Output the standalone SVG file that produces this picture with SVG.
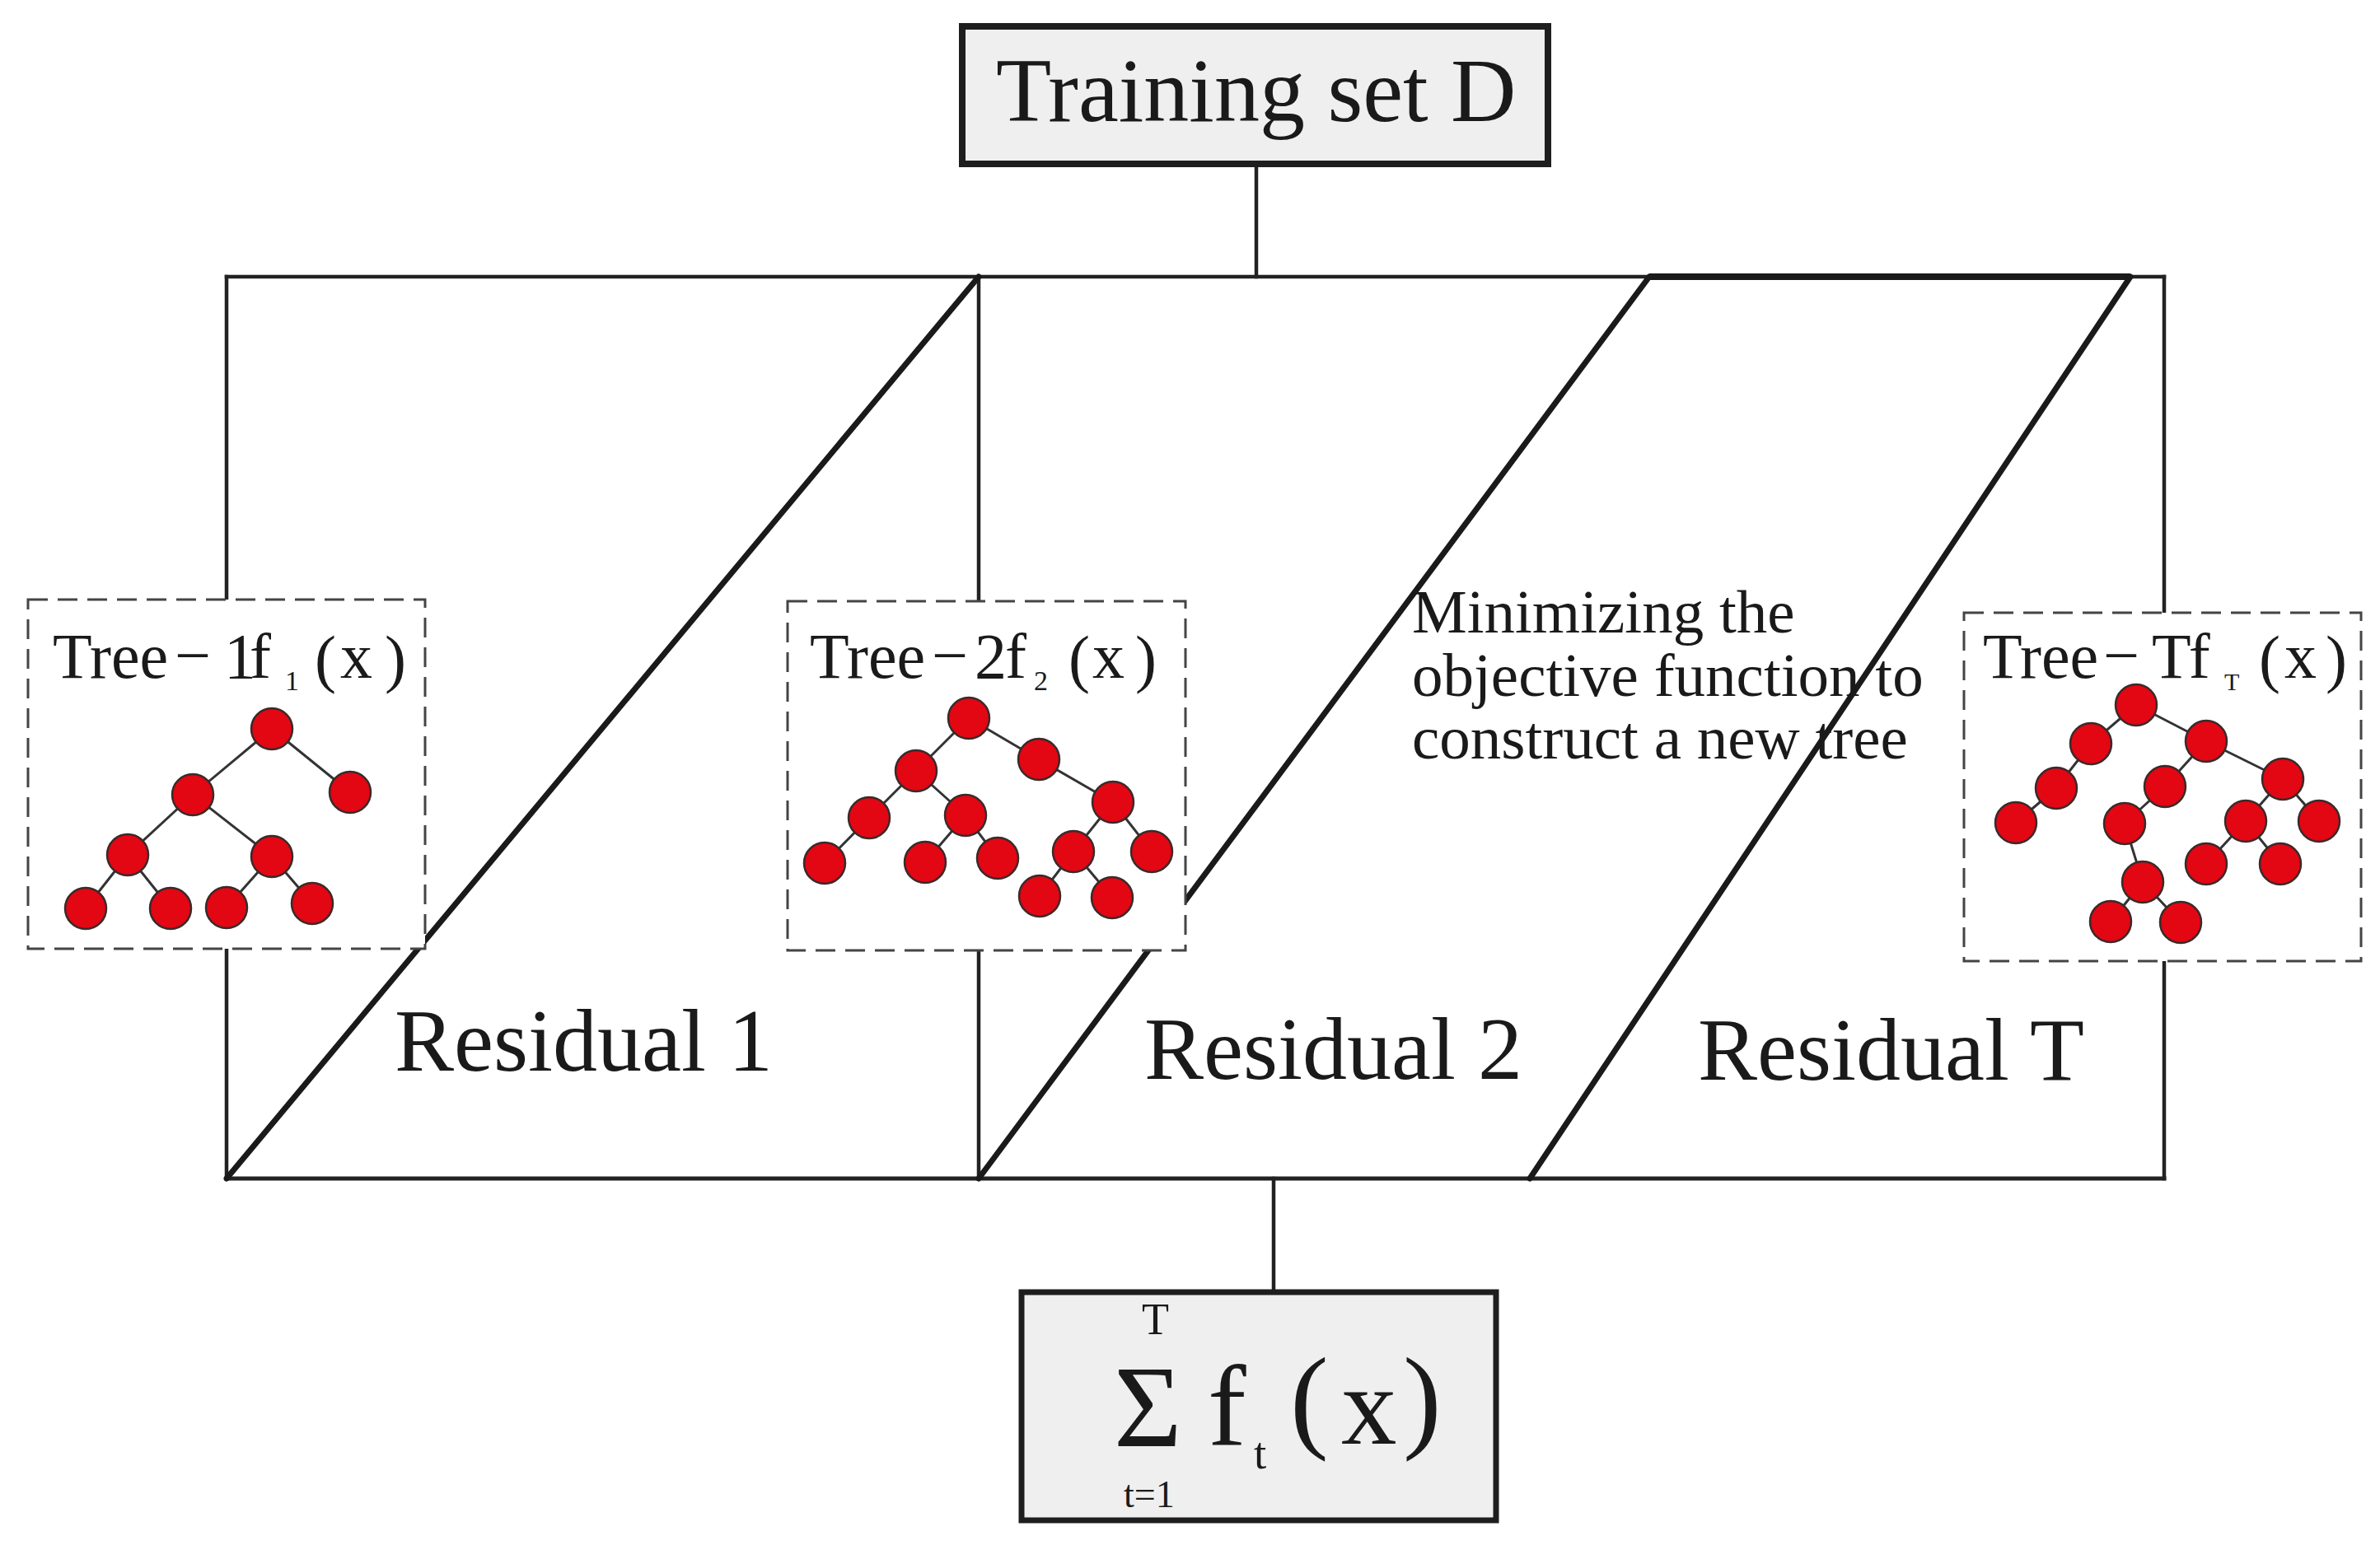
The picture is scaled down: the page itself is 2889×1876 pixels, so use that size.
<svg xmlns="http://www.w3.org/2000/svg" width="2889" height="1876" viewBox="0 0 2889 1876">
<defs>
<style>
.ln{stroke:#222;stroke-width:4.5;fill:none;stroke-linecap:square}
.diag{stroke:#1a1a1a;stroke-width:7;fill:none;stroke-linecap:round}
.thick{stroke:#1a1a1a;stroke-width:8;fill:none}
.dbox{fill:#fff;stroke:#444;stroke-width:3;stroke-dasharray:24 12}
.sbox{fill:#efefef;stroke:#1e1e1e;stroke-width:8}
.t{font-family:"Liberation Serif","Times New Roman",serif;fill:#1a1a1a}
.nd{fill:#e30613;stroke:#3a2a2a;stroke-width:2.5}
.ed{stroke:#333;stroke-width:3}
</style>
</defs>
<rect width="2889" height="1876" fill="#fff"/>

<g id="connectors">
  <line class="ln" x1="1525" y1="199" x2="1525" y2="336"/>
  <line class="ln" x1="275" y1="336" x2="2627" y2="336"/>
  <line class="thick" x1="2002" y1="336" x2="2586" y2="336"/>
  <line class="ln" x1="275" y1="336" x2="275" y2="728"/>
  <line class="ln" x1="275" y1="1152" x2="275" y2="1431"/>
  <line class="ln" x1="1188" y1="336" x2="1188" y2="730"/>
  <line class="ln" x1="1188" y1="1154" x2="1188" y2="1431"/>
  <line class="ln" x1="2627" y1="336" x2="2627" y2="744"/>
  <line class="ln" x1="2627" y1="1167" x2="2627" y2="1431"/>
  <line class="ln" x1="275" y1="1431" x2="2627" y2="1431" style="stroke-width:5"/>
  <line class="ln" x1="1546" y1="1431" x2="1546" y2="1567"/>
  <line class="diag" x1="275" y1="1431" x2="1188" y2="336"/>
  <line class="diag" x1="1188" y1="1431" x2="2002" y2="336"/>
  <line class="diag" x1="1857" y1="1431" x2="2586" y2="336"/>
</g>

<g id="training-set">
  <rect class="sbox" x="1168" y="32" width="711" height="167"/>
  <text class="t" x="1209" y="147" font-size="110">Training set D</text>
</g>

<g id="tree-1">
  <rect class="dbox" x="34" y="728" width="482" height="424"/>
  <text class="t" y="823" font-size="78"><tspan x="64">Tree</tspan><tspan x="212" y="822">−</tspan><tspan x="272" y="823" letter-spacing="-8">1f</tspan><tspan x="346" y="838" font-size="34">1</tspan><tspan x="382" y="826">(</tspan><tspan x="413" y="823">x</tspan><tspan x="467" y="826">)</tspan></text>
  <g class="ed">
    <line x1="330" y1="885" x2="234" y2="965"/>
    <line x1="330" y1="885" x2="425" y2="962"/>
    <line x1="234" y1="965" x2="155" y2="1038"/>
    <line x1="234" y1="965" x2="330" y2="1040"/>
    <line x1="155" y1="1038" x2="104" y2="1103"/>
    <line x1="155" y1="1038" x2="207" y2="1103"/>
    <line x1="330" y1="1040" x2="275" y2="1102"/>
    <line x1="330" y1="1040" x2="379" y2="1097"/>
  </g>
  <g class="nd">
    <circle cx="330" cy="885" r="25"/>
    <circle cx="234" cy="965" r="25"/>
    <circle cx="425" cy="962" r="25"/>
    <circle cx="155" cy="1038" r="25"/>
    <circle cx="330" cy="1040" r="25"/>
    <circle cx="104" cy="1103" r="25"/>
    <circle cx="207" cy="1103" r="25"/>
    <circle cx="275" cy="1102" r="25"/>
    <circle cx="379" cy="1097" r="25"/>
  </g>
</g>

<g id="tree-2">
  <rect class="dbox" x="956" y="730" width="483" height="424"/>
  <text class="t" y="823" font-size="78"><tspan x="983">Tree</tspan><tspan x="1131" y="822">−</tspan><tspan x="1183" y="823" letter-spacing="-2">2f</tspan><tspan x="1255" y="838" font-size="34">2</tspan><tspan x="1297" y="826">(</tspan><tspan x="1326" y="823">x</tspan><tspan x="1378" y="826">)</tspan></text>
  <g class="ed">
    <line x1="1176" y1="872" x2="1112" y2="936"/>
    <line x1="1176" y1="872" x2="1261" y2="922"/>
    <line x1="1112" y1="936" x2="1055" y2="993"/>
    <line x1="1112" y1="936" x2="1172" y2="990"/>
    <line x1="1055" y1="993" x2="1001" y2="1048"/>
    <line x1="1172" y1="990" x2="1123" y2="1047"/>
    <line x1="1172" y1="990" x2="1211" y2="1042"/>
    <line x1="1261" y1="922" x2="1351" y2="974"/>
    <line x1="1351" y1="974" x2="1303" y2="1034"/>
    <line x1="1351" y1="974" x2="1398" y2="1034"/>
    <line x1="1303" y1="1034" x2="1262" y2="1088"/>
    <line x1="1303" y1="1034" x2="1350" y2="1090"/>
  </g>
  <g class="nd">
    <circle cx="1176" cy="872" r="25"/>
    <circle cx="1112" cy="936" r="25"/>
    <circle cx="1261" cy="922" r="25"/>
    <circle cx="1055" cy="993" r="25"/>
    <circle cx="1172" cy="990" r="25"/>
    <circle cx="1001" cy="1048" r="25"/>
    <circle cx="1123" cy="1047" r="25"/>
    <circle cx="1211" cy="1042" r="25"/>
    <circle cx="1351" cy="974" r="25"/>
    <circle cx="1303" cy="1034" r="25"/>
    <circle cx="1398" cy="1034" r="25"/>
    <circle cx="1262" cy="1088" r="25"/>
    <circle cx="1350" cy="1090" r="25"/>
  </g>
</g>

<g id="tree-T">
  <rect class="dbox" x="2384" y="744" width="482" height="423"/>
  <text class="t" y="823" font-size="78"><tspan x="2407">Tree</tspan><tspan x="2553" y="822">−</tspan><tspan x="2612" y="823" letter-spacing="-3">Tf</tspan><tspan x="2700" y="838" font-size="30">T</tspan><tspan x="2742" y="826">(</tspan><tspan x="2773" y="823">x</tspan><tspan x="2823" y="826">)</tspan></text>
  <g class="ed">
    <line x1="2593" y1="856" x2="2538" y2="903"/>
    <line x1="2593" y1="856" x2="2678" y2="900"/>
    <line x1="2538" y1="903" x2="2496" y2="957"/>
    <line x1="2496" y1="957" x2="2447" y2="999"/>
    <line x1="2678" y1="900" x2="2628" y2="955"/>
    <line x1="2628" y1="955" x2="2579" y2="1000"/>
    <line x1="2579" y1="1000" x2="2601" y2="1071"/>
    <line x1="2601" y1="1071" x2="2562" y2="1119"/>
    <line x1="2601" y1="1071" x2="2647" y2="1120"/>
    <line x1="2678" y1="900" x2="2771" y2="946"/>
    <line x1="2771" y1="946" x2="2726" y2="997"/>
    <line x1="2771" y1="946" x2="2815" y2="997"/>
    <line x1="2726" y1="997" x2="2678" y2="1049"/>
    <line x1="2726" y1="997" x2="2768" y2="1049"/>
  </g>
  <g class="nd">
    <circle cx="2593" cy="856" r="25"/>
    <circle cx="2538" cy="903" r="25"/>
    <circle cx="2678" cy="900" r="25"/>
    <circle cx="2496" cy="957" r="25"/>
    <circle cx="2447" cy="999" r="25"/>
    <circle cx="2628" cy="955" r="25"/>
    <circle cx="2579" cy="1000" r="25"/>
    <circle cx="2601" cy="1071" r="25"/>
    <circle cx="2562" cy="1119" r="25"/>
    <circle cx="2647" cy="1120" r="25"/>
    <circle cx="2771" cy="946" r="25"/>
    <circle cx="2726" cy="997" r="25"/>
    <circle cx="2815" cy="997" r="25"/>
    <circle cx="2678" cy="1049" r="25"/>
    <circle cx="2768" cy="1049" r="25"/>
  </g>
</g>

<g id="objective-note">
  <text class="t" font-size="75"><tspan x="1714" y="768">Minimizing the</tspan><tspan x="1714" y="845">objective function to</tspan><tspan x="1714" y="921">construct a new tree</tspan></text>
</g>

<g id="residual-1"><text class="t" x="479" y="1300" font-size="108">Residual 1</text></g>
<g id="residual-2"><text class="t" x="1389" y="1310" font-size="108">Residual 2</text></g>
<g id="residual-T"><text class="t" x="2061" y="1311" font-size="108">Residual T</text></g>

<g id="sum-output">
  <rect class="sbox" x="1240" y="1569" width="576" height="277" style="stroke-width:7"/>
  <text class="t" x="1386" y="1620" font-size="54">T</text>
  <text class="t" x="1352" y="1756" font-size="142">Σ</text>
  <text class="t" x="1364" y="1830" font-size="46">t=1</text>
  <text class="t"><tspan x="1466" y="1755" font-size="140">f</tspan><tspan x="1522" y="1783" font-size="55">t</tspan><tspan x="1566" y="1745" font-size="140">(</tspan><tspan x="1628" y="1753" font-size="135">x</tspan><tspan x="1703" y="1745" font-size="140">)</tspan></text>
</g>
</svg>
